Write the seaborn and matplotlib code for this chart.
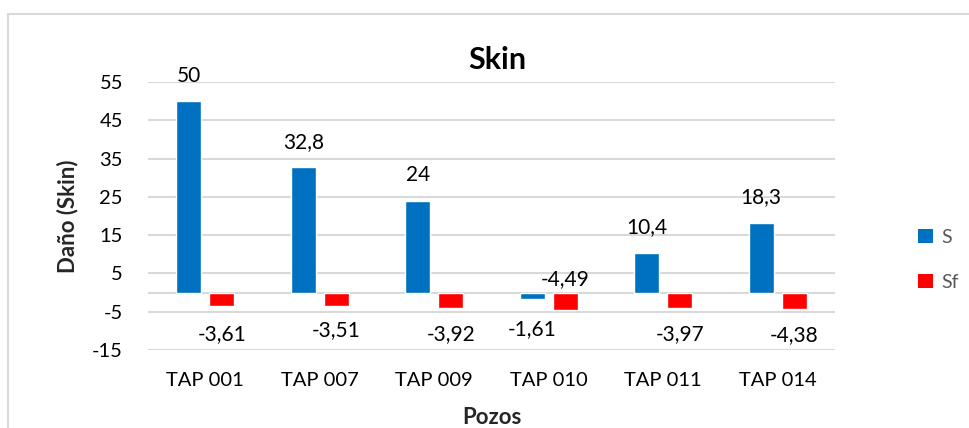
import matplotlib
matplotlib.use("Agg")
import matplotlib.pyplot as plt
import seaborn as sns
import pandas as pd
from matplotlib.patches import Patch, Rectangle

# ---- data ----
pozos = ["TAP 001", "TAP 007", "TAP 009", "TAP 010", "TAP 011", "TAP 014"]
s_vals = [50, 32.8, 24, -1.61, 10.4, 18.3]
sf_vals = [-3.61, -3.51, -3.92, -4.49, -3.97, -4.38]
series_names = ["S", "Sf"]
y_ticks = [-15, -5, 5, 15, 25, 35, 45, 55]
# label anchor heights (data units) as placed in the original chart
s_label_y = [56.5, 39.3, 30.7, -9.5, 17.1, 25.0]
sf_label_y = [-10.8, -9.8, -10.9, 3.5, -10.8, -11.0]

colors = {"S": "#0070C0", "Sf": "#FF0000"}

df = pd.DataFrame({
    "Pozo": pozos * 2,
    "Valor": s_vals + sf_vals,
    "Serie": ["S"] * len(pozos) + ["Sf"] * len(pozos),
})

sns.set_theme(style="white")
plt.rcParams["font.family"] = ["Lato", "DejaVu Sans"]

fig = plt.figure(figsize=(9.7, 4.28), dpi=100)
ax = fig.add_axes([148 / 970, 1 - 350 / 428, (835 - 148) / 970, (350 - 82) / 428])

sns.barplot(data=df, x="Pozo", y="Valor", hue="Serie", palette=colors,
            width=0.576, gap=0.24, errorbar=None, ax=ax, legend=False,
            saturation=1)

ax.set_ylim(-15, 55)
ax.set_yticks(y_ticks)
ax.set_yticklabels([str(t) for t in y_ticks])
ax.set_xlim(-0.5, len(pozos) - 0.5)
ax.grid(axis="y", color="#d9d9d9", linewidth=1.5, zorder=0)
ax.set_axisbelow(True)
ax.axhline(0, color="#d9d9d9", linewidth=1.5, zorder=0.5)
for sp in ax.spines.values():
    sp.set_visible(False)
ax.tick_params(axis="both", length=0, labelsize=14.5, colors="#000000")
ax.tick_params(axis="y", pad=18)
ax.tick_params(axis="x", pad=16)

ax.set_xlabel("Pozos", fontsize=16, fontweight="bold", labelpad=13)
ax.set_ylabel("Daño (Skin)", fontsize=16, fontweight="bold", labelpad=10)

def fmt(v):
    s = f"{v:g}"
    return s.replace(".", ",")

off = 0.144
for i in range(len(pozos)):
    ax.text(i - off, s_label_y[i], fmt(s_vals[i]), ha="center", va="center",
            fontsize=15, color="#000000")
    ax.text(i + off, sf_label_y[i], fmt(sf_vals[i]), ha="center", va="center",
            fontsize=15, color="#000000")

fig.text(497 / 970, 1 - 60 / 428, "Skin", ha="center", va="center",
         fontsize=22, fontweight="bold", color="#000000")

handles = [Patch(facecolor=colors[n], edgecolor="none") for n in series_names]
fig.legend(handles, series_names, loc="center left",
           bbox_to_anchor=(918 / 970, 1 - 260 / 428), frameon=False,
           borderaxespad=0, borderpad=0,
           fontsize=14, labelcolor="#595959", handlelength=0.75,
           handleheight=0.75, handletextpad=0.45, labelspacing=1.45)

fig.patches.append(Rectangle((8 / 970, -0.1), 1.2, 1 - 14 / 428 + 0.1,
                             transform=fig.transFigure, fill=False,
                             edgecolor="#d9d9d9", linewidth=1.5))

fig.savefig("out.png", dpi=100)
